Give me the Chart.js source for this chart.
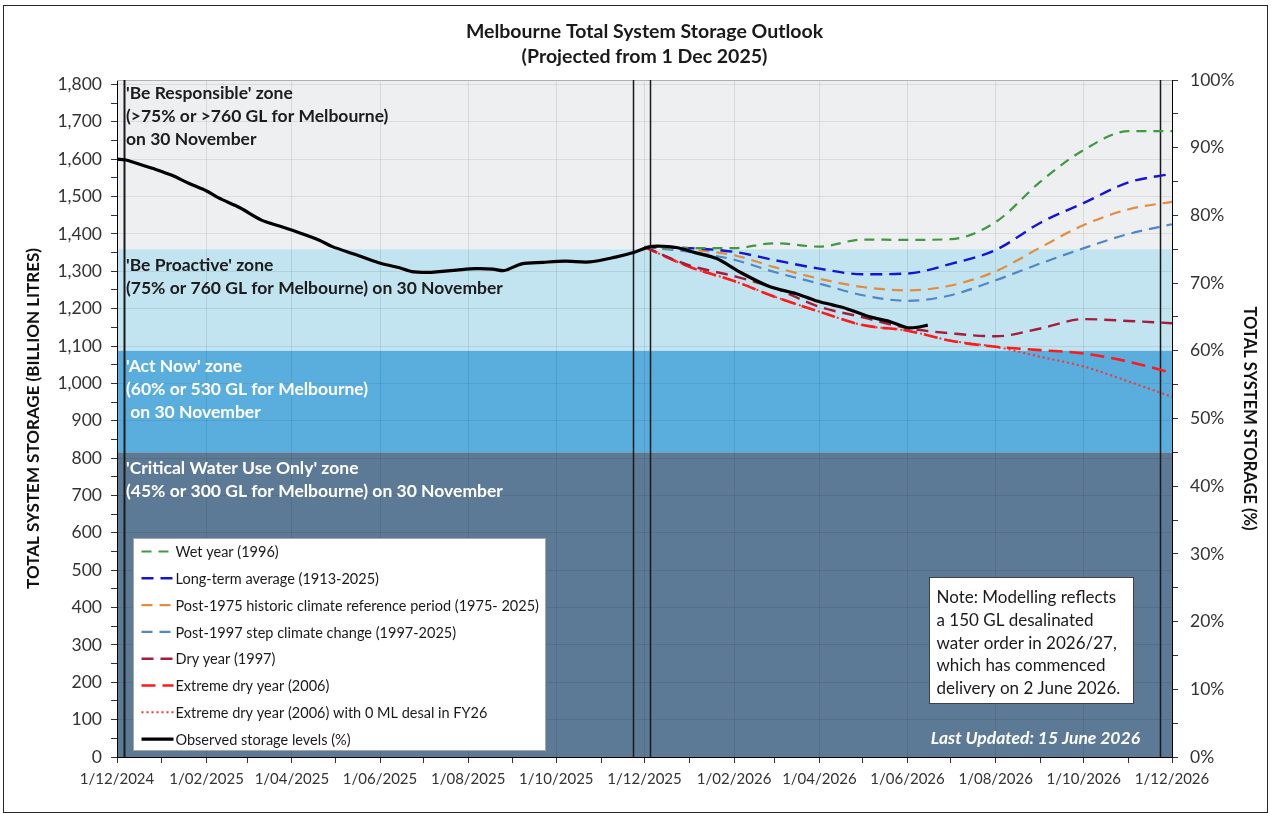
<!DOCTYPE html>
<html><head><meta charset="utf-8">
<script src="https://cdn.jsdelivr.net/npm/chart.js@4.4.1/dist/chart.umd.min.js"></script>
<style>html,body{margin:0;padding:0;background:#fff;}#wrap{width:1271px;height:814px;position:relative;}</style>
</head><body><div id="wrap"><canvas id="c" width="1271" height="814"></canvas></div>
<script>
// ---------- DATA ----------
const xTickLabels = ['1/12/2024','1/02/2025','1/04/2025','1/06/2025','1/08/2025','1/10/2025','1/12/2025','1/02/2026','1/04/2026','1/06/2026','1/08/2026','1/10/2026','1/12/2026'];
const capacityGL = 1812;
const zonePct = [75, 60, 45];
const zoneNames = ['Be Responsible','Be Proactive','Act Now','Critical Water Use Only'];
const referenceLineDates = ['2024-12-06','2025-11-23','2025-12-05','2026-11-23'];

const projDates = ['2025-12-01','2026-01-01','2026-02-01','2026-03-01','2026-04-01','2026-05-01','2026-06-01','2026-07-01','2026-08-01','2026-09-01','2026-10-01','2026-11-01','2026-12-01'];
const wetYear1996      = [1365,1362,1362,1375,1366,1385,1384,1386,1432,1540,1625,1675,1675];
const longTermAverage  = [1365,1362,1352,1330,1307,1292,1294,1320,1357,1430,1483,1538,1561];
const post1975         = [1365,1358,1343,1311,1280,1258,1249,1262,1300,1364,1424,1466,1486];
const post1997         = [1365,1352,1331,1298,1267,1236,1221,1236,1276,1321,1362,1400,1426];
const dryYear1997      = [1365,1316,1287,1255,1205,1177,1148,1134,1126,1147,1172,1167,1161];
const extremeDry2006   = [1365,1312,1274,1232,1192,1156,1141,1114,1098,1089,1080,1058,1028];
const extremeDryNoDesal= [1365,1312,1274,1232,1192,1156,1141,1114,1098,1071,1045,1005,964];

const obsDates = ['2024-12-01','2024-12-07','2024-12-14','2024-12-26','2025-01-08','2025-01-20','2025-02-01','2025-02-09','2025-02-24','2025-03-11','2025-03-26','2025-04-07','2025-04-20','2025-04-29','2025-05-15','2025-05-31','2025-06-14','2025-06-23','2025-07-04','2025-07-12','2025-07-24','2025-08-06','2025-08-18','2025-08-26','2025-09-07','2025-09-22','2025-10-07','2025-10-24','2025-11-11','2025-11-24','2025-12-05','2025-12-14','2025-12-24','2026-01-05','2026-01-20','2026-02-04','2026-02-25','2026-03-16','2026-03-29','2026-04-10','2026-04-20','2026-05-06','2026-05-20','2026-06-01','2026-06-09','2026-06-15'];
const obsValues = [1600,1598,1590,1575,1557,1535,1515,1497,1470,1437,1418,1402,1383,1366,1345,1323,1310,1299,1297,1299,1303,1307,1306,1302,1320,1324,1327,1325,1338,1351,1366,1367,1363,1350,1334,1300,1260,1240,1222,1210,1200,1178,1165,1149,1151,1156];

// ---------- helpers ----------
const START = Date.UTC(2024, 11, 1);
const dayOf = s => { const [y,m,d] = s.split('-').map(Number); return Math.round((Date.UTC(y,m-1,d) - START) / 86400000); };
const monthDays = []; for (let i = 0; i <= 24; i++) monthDays.push(Math.round((Date.UTC(2024, 11 + i, 1) - START) / 86400000));
const pts = (dates, vals) => dates.map((s, i) => ({x: dayOf(s), y: vals[i]}));

const FONT = 'Lato';
Chart.defaults.font.family = FONT;
Chart.defaults.color = '#333';

const zoneColors = ['#eeeff1', '#c1e4f0', '#5aaedd', '#5c7a95'];
const zoneText = [
  {lines: ["'Be Responsible' zone", "(>75% or >760 GL for Melbourne)", "on 30 November"], color: '#1c1c1c', first: 13},
  {lines: ["'Be Proactive' zone", "(75% or 760 GL for Melbourne) on 30 November"], color: '#1c1c1c', first: 16},
  {lines: ["'Act Now' zone", "(60% or 530 GL for Melbourne)", " on 30 November"], color: '#ffffff', first: 16},
  {lines: ["'Critical Water Use Only' zone", "(45% or 300 GL for Melbourne) on 30 November"], color: '#ffffff', first: 16}
];
const noteLines = ['Note: Modelling reflects','a 150 GL desalinated','water order in 2026/27,','which has commenced','delivery on 2 June 2026.'];
const lastUpdated = 'Last Updated: 15 June 2026';

const decor = {
  id: 'decor',
  beforeDraw(chart) {
    const {ctx, chartArea: a, scales: {y}} = chart;
    const bounds = [capacityGL, ...zonePct.map(p => p / 100 * capacityGL), 0];
    ctx.save();
    zoneColors.forEach((c, i) => {
      const t = y.getPixelForValue(bounds[i]), b = y.getPixelForValue(bounds[i + 1]);
      ctx.fillStyle = c; ctx.fillRect(a.left, t, a.right - a.left, b - t);
    });
    ctx.restore();
  },
  beforeDatasetsDraw(chart) {
    const {ctx, chartArea: a, scales: {x, y}} = chart;
    const bounds = [capacityGL, ...zonePct.map(p => p / 100 * capacityGL)];
    ctx.save();
    ctx.strokeStyle = '#b0b0b0'; ctx.lineWidth = 1;
    ctx.beginPath(); ctx.moveTo(a.left, a.top + 0.5); ctx.lineTo(a.right, a.top + 0.5); ctx.stroke();
    ctx.font = 'bold 17.5px ' + FONT; ctx.textBaseline = 'middle'; ctx.textAlign = 'left';
    zoneText.forEach((z, i) => {
      const t = y.getPixelForValue(bounds[i]);
      ctx.fillStyle = z.color;
      z.lines.forEach((ln, j) => ctx.fillText(ln, a.left + 9, t + z.first + j * 23));
    });
    ctx.strokeStyle = '#1a1a1a';
    referenceLineDates.forEach((s, i) => {
      const px = Math.round(x.getPixelForValue(dayOf(s))) + 0.5;
      ctx.lineWidth = i === 0 ? 2 : 1.5;
      ctx.beginPath(); ctx.moveTo(px, a.top); ctx.lineTo(px, a.bottom); ctx.stroke();
    });
    ctx.restore();
  },
  afterDraw(chart) {
    const {ctx, chartArea: a} = chart;
    ctx.save();
    const lx = a.left + 16.5, ly = a.bottom - 218.5, lw = 412, lh = 212;
    ctx.fillStyle = '#fff'; ctx.fillRect(lx, ly, lw, lh);
    ctx.strokeStyle = '#a6a6a6'; ctx.lineWidth = 1; ctx.strokeRect(lx, ly, lw, lh);
    ctx.font = '14.5px ' + FONT; ctx.textBaseline = 'middle'; ctx.textAlign = 'left';
    chart.data.datasets.forEach((ds, i) => {
      const yy = ly + 13 + i * 26.8;
      ctx.save();
      ctx.strokeStyle = ds.borderColor; ctx.lineWidth = ds.borderWidth;
      ctx.setLineDash(ds.borderDash || []);
      ctx.beginPath(); ctx.moveTo(lx + 8, yy); ctx.lineTo(lx + 40, yy); ctx.stroke();
      ctx.restore();
      ctx.fillStyle = '#1a1a1a';
      ctx.fillText(ds.label, lx + 42, yy + 1);
    });
    const nx = 929.5, ny = 577.5, nw = 204, nh = 126;
    ctx.fillStyle = '#fff'; ctx.fillRect(nx, ny, nw, nh);
    ctx.strokeStyle = '#404040'; ctx.strokeRect(nx, ny, nw, nh);
    ctx.fillStyle = '#1a1a1a'; ctx.font = '17px ' + FONT;
    noteLines.forEach((ln, i) => ctx.fillText(ln, nx + 7, ny + 20 + i * 22.8));
    ctx.fillStyle = '#ffffff'; ctx.font = 'italic bold 17.5px ' + FONT; ctx.textAlign = 'right';
    ctx.fillText(lastUpdated, 1140, 738);
    ctx.strokeStyle = '#262626'; ctx.lineWidth = 1; ctx.setLineDash([]);
    ctx.strokeRect(3.5, 5.5, 1264, 807);
    ctx.restore();
  }
};

const mk = (label, color, dash, width, data, extra) => Object.assign({
  label, data, borderColor: color, backgroundColor: color, borderDash: dash, borderWidth: width,
  pointRadius: 0, fill: false, cubicInterpolationMode: 'monotone'
}, extra || {});

const datasets = [
  mk('Wet year (1996)', '#3f9a3f', [10, 7], 2.2, pts(projDates, wetYear1996)),
  mk('Long-term average (1913-2025)', '#1414d8', [12, 7], 2.4, pts(projDates, longTermAverage)),
  mk('Post-1975 historic climate reference period (1975- 2025)', '#e38b3e', [11, 7], 2.2, pts(projDates, post1975)),
  mk('Post-1997 step climate change (1997-2025)', '#4f87c8', [11, 7], 2.2, pts(projDates, post1997)),
  mk('Dry year (1997)', '#a51d3a', [12, 7], 2.4, pts(projDates, dryYear1997)),
  mk('Extreme dry year (2006)', '#ff1a1a', [14, 7], 2.6, pts(projDates, extremeDry2006)),
  mk('Extreme dry year (2006) with 0 ML desal in FY26', '#ff3030', [2, 3], 2, pts(projDates, extremeDryNoDesal)),
  mk('Observed storage levels (%)', '#000000', [], 3.2, pts(obsDates, obsValues), {order: -1, cubicInterpolationMode: 'default', tension: 0.3})
];

function build() {
  new Chart(document.getElementById('c'), {
    type: 'line',
    data: {datasets},
    plugins: [decor],
    options: {
      responsive: false, animation: false, devicePixelRatio: 1,
      layout: {padding: {left: 4, right: 4, top: 6, bottom: 0}},
      plugins: {
        legend: {display: false}, tooltip: {enabled: false},
        title: {display: true, fullSize: false, text: ['Melbourne Total System Storage Outlook', '(Projected from 1 Dec 2025)'],
          color: '#1a1a1a', font: {size: 19.5, weight: 'bold', lineHeight: 25 / 19.5}, padding: {top: 13, bottom: 11}}
      },
      scales: {
        x: {
          type: 'linear', min: 0, max: monthDays[24],
          afterBuildTicks: s => { s.ticks = monthDays.map(v => ({value: v})); },
          afterFit: s => { s.height = 57; },
          ticks: {autoSkip: false, maxRotation: 0, padding: 7, color: '#333', font: {size: 15},
            callback: (v, i) => (i % 2 === 0 ? xTickLabels[i / 2] : '')},
          grid: {color: c => (c.index % 2 === 0 ? 'rgba(0,0,0,0.09)' : 'rgba(0,0,0,0)'), tickColor: '#333', tickLength: 6, drawTicks: true},
          border: {color: '#000', width: 1}
        },
        y: {
          type: 'linear', position: 'left', min: 0, max: capacityGL,
          afterBuildTicks: s => { const t = []; for (let v = 0; v <= 1800; v += 50) t.push({value: v}); s.ticks = t; },
          afterFit: s => { s.width = 113; },
          ticks: {autoSkip: false, padding: 9, color: '#333', font: {size: 17.5},
            callback: v => (v % 100 === 0 ? v.toLocaleString('en-US') : '')},
          grid: {color: c => (c.tick && c.tick.value % 100 === 0 ? 'rgba(0,0,0,0.08)' : 'rgba(0,0,0,0)'), tickColor: '#333', tickLength: 6},
          border: {color: '#000', width: 1},
          title: {display: true, text: 'TOTAL SYSTEM STORAGE (BILLION LITRES)', color: '#111', font: {size: 17, weight: 'bold', lineHeight: 1.2}, padding: {top: 19, bottom: 0}}
        },
        y2: {
          type: 'linear', position: 'right', min: 0, max: 100,
          afterBuildTicks: s => { const t = []; for (let v = 0; v <= 100; v += 5) t.push({value: v}); s.ticks = t; },
          afterFit: s => { s.width = 95; },
          ticks: {autoSkip: false, padding: 12, color: '#333', font: {size: 17.5},
            callback: v => (v % 10 === 0 ? v + '%' : '')},
          grid: {drawOnChartArea: false, color: '#333', tickColor: '#333', tickLength: 6},
          border: {color: '#000', width: 1},
          title: {display: true, text: 'TOTAL SYSTEM STORAGE (%)', color: '#111', font: {size: 16.5, weight: 'bold', lineHeight: 1.2}, padding: {top: 8, bottom: 0}}
        }
      }
    }
  });
}
Promise.all([document.fonts.load('16px Lato'), document.fonts.load('bold 16px Lato'), document.fonts.load('italic bold 16px Lato')]).then(build, build);
</script></body></html>
